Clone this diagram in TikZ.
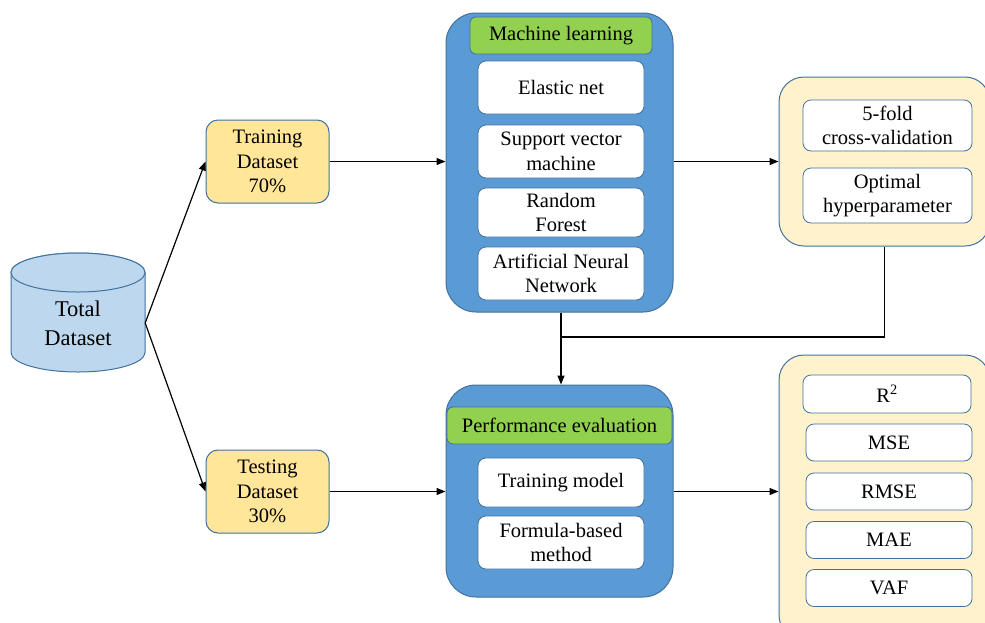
\documentclass[tikz,border=0pt]{standalone}
\usepackage{fontspec}
\setmainfont{Liberation Serif}
\newfontfamily\tnr{Liberation Serif}
\usetikzlibrary{arrows.meta}
\definecolor{bordblue}{HTML}{41719C}
\definecolor{mlblue}{HTML}{5B9BD5}
\definecolor{hdrgreen}{HTML}{92D050}
\definecolor{dsyellow}{HTML}{FFE699}
\definecolor{paleyellow}{HTML}{FFF2CC}
\definecolor{cylblue}{HTML}{BDD7EE}
\tikzset{
  txt/.style={font=\tnr\fontsize{20.5}{24.5}\selectfont, align=center, inner sep=0pt, text=black},
  dsbox/.style={txt, draw=bordblue, line width=1pt, fill=dsyellow, rounded corners=12pt, minimum width=123pt, minimum height=83pt},
  outerblue/.style={draw=bordblue, line width=1pt, fill=mlblue, rounded corners=30pt, inner sep=0pt},
  outeryellow/.style={draw=bordblue, line width=1pt, fill=paleyellow, rounded corners=25pt, inner sep=0pt},
  hdr/.style={txt, draw=bordblue, line width=0.8pt, fill=hdrgreen, rounded corners=6pt, minimum height=37pt},
  inbox/.style={txt, draw=bordblue, line width=0.8pt, fill=white, rounded corners=8pt, minimum width=166pt},
  conn/.style={line width=1.2pt, -{Triangle[length=9pt,width=7pt]}},
  plain/.style={line width=1.2pt}
}
\begin{document}
\begin{tikzpicture}[x=1pt,y=-1pt]
\useasboundingbox (0,0) rectangle (985,622);
\clip (0,0) rectangle (985,622);
% cylinder
\draw[draw=bordblue, line width=1pt, fill=cylblue]
  (11,272.5) -- (11,352.5) arc[start angle=180, end angle=0, x radius=67, y radius=19.5]
  -- (145,272.5) arc[start angle=0, end angle=-180, x radius=67, y radius=19.5] -- cycle;
\draw[draw=bordblue, line width=1pt, fill=cylblue] (78,272.5) ellipse[x radius=67, y radius=19.5];
\node[txt, font=\tnr\fontsize{22.5}{29}\selectfont, minimum width=134pt, minimum height=60pt] (total) at (78,323) {Total\\Dataset};

% dataset boxes
\node[dsbox] (train) at (267.5,161.5) {Training\\Dataset\\70\%};
\node[dsbox] (test) at (267.5,491.5) {Testing\\Dataset\\30\%};

% machine learning block
\node[outerblue, minimum width=227pt, minimum height=299pt] (ml) at (559.5,162.5) {};
\node[hdr, minimum width=182pt] (mlh) at (561,35.5) {Machine learning};
\node[inbox, minimum height=53pt] (en) at (561,87.5) {Elastic net};
\node[inbox, minimum height=53pt] (svm) at (561,151.5) {Support vector\\machine};
\node[inbox, minimum height=49pt] (rf) at (561,212.5) {Random\\Forest};
\node[inbox, minimum height=53pt] (ann) at (561,273.5) {Artificial Neural\\Network};

% performance evaluation block
\node[outerblue, minimum width=227pt, minimum height=212pt] (pe) at (559.5,491) {};
\node[hdr, minimum width=225pt] (peh) at (559.5,425.5) {Performance evaluation};
\node[inbox, minimum height=49pt] (tm) at (561,482.5) {Training model};
\node[inbox, minimum height=53pt] (fb) at (561,542.5) {Formula-based\\method};

% cross-validation block
\node[outeryellow, minimum width=211pt, minimum height=169pt] (cv) at (884.5,161.5) {};
\node[inbox, minimum width=169pt, minimum height=51pt] (cvf) at (887.5,125.5) {5-fold\\cross-validation};
\node[inbox, minimum width=169pt, minimum height=55pt] (opt) at (887.5,195.5) {Optimal\\hyperparameter};

% metrics block
\node[outeryellow, minimum width=211pt, minimum height=285pt] (met) at (884.5,497.5) {};
\node[inbox, minimum width=168pt, minimum height=38pt] (r2) at (887,394) {R\textsuperscript{2}};
\node[inbox, minimum width=166pt, minimum height=37pt] (mse) at (889,442.5) {MSE};
\node[inbox, minimum width=166pt, minimum height=37pt] (rmse) at (889,491.5) {RMSE};
\node[inbox, minimum width=166pt, minimum height=37pt] (mae) at (889,540) {MAE};
\node[inbox, minimum width=166pt, minimum height=37pt] (vaf) at (889,588) {VAF};

% connectors
\draw[conn] (total.east) -- (train.west);
\draw[conn] (total.east) -- (test.west);
\draw[conn] (train.east) -- (train.east -| ml.west);
\draw[conn] (test.east) -- (test.east -| pe.west);
\draw[conn] (ml.east |- train.east) -- (train.east -| cv.west);
\draw[conn] (pe.east |- test.east) -- (test.east -| met.west);
\coordinate (j) at (561,337);
\draw[plain] (cv.south) |- (j);
\draw[conn] (ml.south -| j) -- (pe.north -| j);
\end{tikzpicture}
\end{document}
